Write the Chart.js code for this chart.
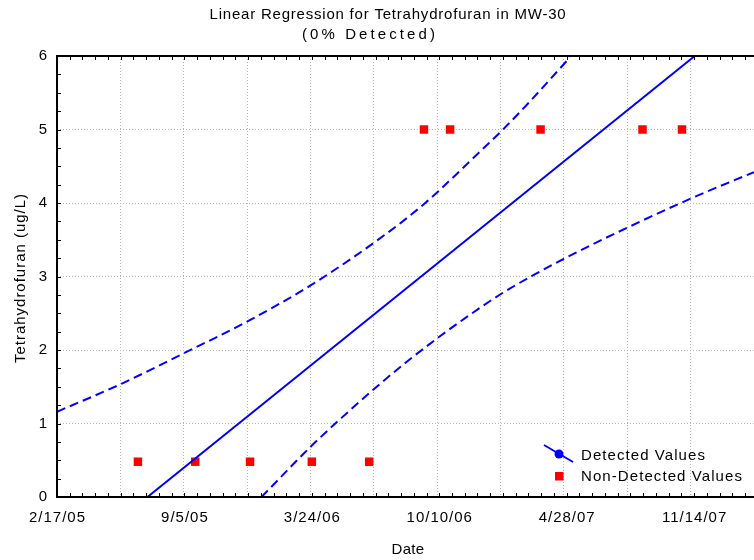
<!DOCTYPE html>
<html>
<head>
<meta charset="utf-8">
<title>Linear Regression for Tetrahydrofuran in MW-30</title>
<script src="https://cdn.jsdelivr.net/npm/chart.js@4/dist/chart.umd.min.js"></script>
<style>
  html, body { margin: 0; padding: 0; background: #fff; }
  canvas { display: block; }
</style>
</head>
<body>
<canvas id="chart" width="754" height="560"></canvas>
<script>
// ─── Data ─────────────────────────────────────────────────────
const START_DATE = '2005-02-17';
const END_DATE = '2008-02-16';

// non-detected samples (plotted at reporting limit)
const ndDates = ['2005-06-24', '2005-09-22', '2005-12-17', '2006-03-24', '2006-06-22',
                 '2006-09-16', '2006-10-27', '2007-03-18', '2007-08-25', '2007-10-26'];
const ndValues = [0.48, 0.48, 0.48, 0.48, 0.48, 5, 5, 5, 5, 5];

// regression line
const fitDates = ['2005-07-09', '2007-11-15'];
const fitValues = [0, 6];

// confidence band, upper
const upperDates = ['2005-02-17', '2005-05-29', '2005-09-05', '2005-12-13', '2006-03-24', '2006-07-17',
                    '2006-09-18', '2006-10-11', '2006-12-13', '2007-01-18', '2007-02-27', '2007-05-03'];
const upperValues = [1.16, 1.54, 1.96, 2.39, 2.89, 3.57, 4.0, 4.18, 4.70, 5.0, 5.36, 5.98];

// confidence band, lower
const lowerDates = ['2006-01-04', '2006-03-24', '2006-05-10', '2006-07-01', '2006-08-20', '2006-10-10',
                    '2006-11-24', '2007-01-20', '2007-04-28', '2007-08-05', '2007-11-14', '2008-02-16'];
const lowerValues = [0, 0.70, 1.08, 1.48, 1.84, 2.18, 2.46, 2.79, 3.26, 3.68, 4.08, 4.42];

// x axis labels (every 200 days), gridlines every 100 days
const xLabelDates = ['2005-02-17', '2005-09-05', '2006-03-24', '2006-10-10', '2007-04-28', '2007-11-14'];
const xLabels = ['2/17/05', '9/5/05', '3/24/06', '10/10/06', '4/28/07', '11/14/07'];
const gridStepDays = 100;
const minorStepDays = 20;
const yMax = 6;

// ─── Helpers ──────────────────────────────────────────────────
const DAY = 86400000;
function utc(s) {
  const [y, m, d] = s.split('-').map(Number);
  return Date.UTC(y, m - 1, d);
}
function dayOf(s) {
  return Math.round((utc(s) - utc(START_DATE)) / DAY);
}
function toPoints(dates, values) {
  return dates.map((s, i) => ({ x: dayOf(s), y: values[i] }));
}

const FONT = '"Liberation Sans", Arial, sans-serif';
Chart.defaults.font.family = FONT;
Chart.defaults.font.size = 15;
Chart.defaults.color = '#000';

// draw text stretched by letter spacing to a measured width
function spacedText(ctx, text, x, y, width, align) {
  ctx.letterSpacing = '0px';
  const w0 = ctx.measureText(text).width;
  const ls = Math.max(0, (width - w0) / text.length);
  ctx.letterSpacing = ls + 'px';
  ctx.textAlign = 'left';
  const left = align === 'center' ? x - width / 2 : x;
  ctx.fillText(text, left, y);
}

// ─── Plugins ──────────────────────────────────────────────────
const spacing = {
  id: 'spacing',
  beforeDraw(chart) { chart.ctx.letterSpacing = '1px'; }
};

// top/left/bottom frame with small inside ticks, x labels
const frame = {
  id: 'frame',
  afterDraw(chart) {
    const { ctx, chartArea: a, scales: { x, y } } = chart;
    ctx.save();
    ctx.strokeStyle = '#000';
    ctx.lineWidth = 2;
    ctx.beginPath();
    ctx.moveTo(a.right, a.top); ctx.lineTo(a.left, a.top);
    ctx.lineTo(a.left, a.bottom); ctx.lineTo(a.right, a.bottom);
    ctx.stroke();
    ctx.lineWidth = 1;
    ctx.beginPath();
    for (let d = x.min; d <= x.max; d += minorStepDays) {
      const px = Math.round(x.getPixelForValue(d)) + 0.5;
      ctx.moveTo(px, a.bottom); ctx.lineTo(px, a.bottom - 4);
      ctx.moveTo(px, a.top); ctx.lineTo(px, a.top + 4);
    }
    for (let v = y.min; v <= y.max; v += 0.25) {
      const py = Math.round(y.getPixelForValue(v)) + 0.5;
      ctx.moveTo(a.left, py); ctx.lineTo(a.left + 4, py);
    }
    ctx.stroke();

    ctx.font = '15px ' + FONT;
    ctx.fillStyle = '#000';
    ctx.letterSpacing = '1px';
    ctx.textAlign = 'center';
    ctx.textBaseline = 'alphabetic';
    xLabelDates.forEach((s, i) => {
      ctx.fillText(xLabels[i], x.getPixelForValue(dayOf(s)) + 0.5, a.bottom + 25);
    });
    ctx.restore();
  }
};

// titles + legend
const texts = {
  id: 'texts',
  afterDraw(chart) {
    const { ctx } = chart;
    ctx.save();
    ctx.font = '15px ' + FONT;
    ctx.fillStyle = '#000';
    ctx.textBaseline = 'alphabetic';
    spacedText(ctx, 'Linear Regression for Tetrahydrofuran in MW-30', 388, 19, 357, 'center');
    spacedText(ctx, '(0% Detected)', 370, 39, 136, 'center');
    spacedText(ctx, 'Date', 408, 554, 33, 'center');

    ctx.save();
    ctx.translate(25, 278);
    ctx.rotate(-Math.PI / 2);
    spacedText(ctx, 'Tetrahydrofuran (ug/L)', 0, 0, 170, 'center');
    ctx.restore();

    // legend
    ctx.strokeStyle = '#0000ff';
    ctx.lineWidth = 2;
    ctx.beginPath();
    ctx.moveTo(544, 445); ctx.lineTo(573, 462);
    ctx.stroke();
    ctx.fillStyle = '#0000ff';
    ctx.beginPath();
    ctx.arc(559, 454, 4.5, 0, Math.PI * 2);
    ctx.fill();
    ctx.fillStyle = '#ff0000';
    ctx.fillRect(555, 472, 8.5, 8.5);
    ctx.fillStyle = '#000';
    spacedText(ctx, 'Detected Values', 581, 460, 125, 'left');
    spacedText(ctx, 'Non-Detected Values', 581, 481, 162, 'left');
    ctx.restore();
  }
};

// ─── Chart ────────────────────────────────────────────────────
const gridOpts = { color: '#b4b4b4', lineWidth: 1, drawTicks: false };
const borderOpts = { display: false, dash: [1, 2] };
const bandStyle = {
  showLine: true,
  borderColor: '#0000ff',
  borderWidth: 2,
  borderDash: [9, 5],
  pointRadius: 0,
  cubicInterpolationMode: 'monotone'
};

new Chart(document.getElementById('chart'), {
  type: 'scatter',
  data: {
    datasets: [
      Object.assign({ label: 'Upper', data: toPoints(upperDates, upperValues) }, bandStyle),
      Object.assign({ label: 'Lower', data: toPoints(lowerDates, lowerValues) }, bandStyle),
      {
        label: 'Detected Values',
        data: toPoints(fitDates, fitValues),
        showLine: true,
        borderColor: '#0000ff',
        borderWidth: 2,
        pointRadius: 0
      },
      {
        label: 'Non-Detected Values',
        data: toPoints(ndDates, ndValues),
        pointStyle: 'rect',
        pointRadius: 6,
        pointBackgroundColor: '#ff0000',
        pointBorderWidth: 0,
        borderColor: '#ff0000'
      }
    ]
  },
  options: {
    responsive: false,
    animation: false,
    layout: { autoPadding: false, padding: { top: 56, right: 0, bottom: 0, left: 0 } },
    plugins: {
      legend: { display: false },
      title: { display: false },
      tooltip: { enabled: false }
    },
    scales: {
      x: {
        type: 'linear',
        min: 0,
        max: dayOf(END_DATE),
        afterFit: s => { s.height = 63; s.paddingLeft = 0; s.paddingRight = 0; },
        grid: gridOpts,
        border: borderOpts,
        ticks: { display: false, stepSize: gridStepDays, includeBounds: false, autoSkip: false }
      },
      y: {
        min: 0,
        max: yMax,
        afterFit: s => { s.width = 57; },
        grid: gridOpts,
        border: borderOpts,
        ticks: { stepSize: 1, padding: 9 }
      }
    }
  },
  plugins: [spacing, frame, texts]
});
</script>
</body>
</html>
